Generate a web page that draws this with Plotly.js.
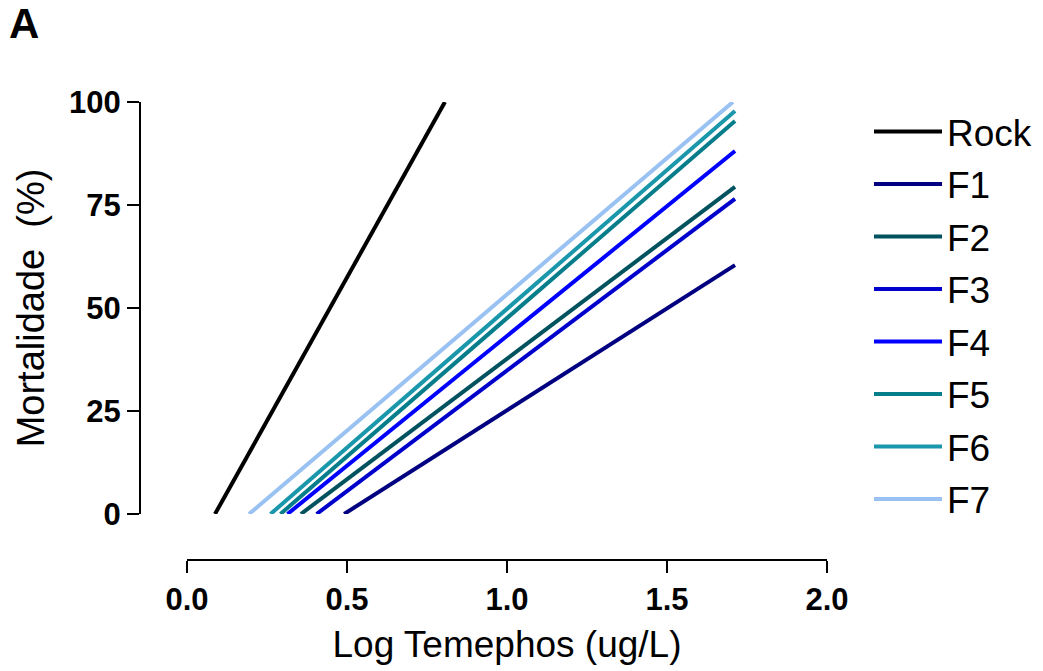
<!DOCTYPE html>
<html>
<head>
<meta charset="utf-8">
<script src="https://cdn.plot.ly/plotly-3.0.1.min.js"></script>
<style>html,body{margin:0;padding:0;background:#fff;}#chart{width:1043px;height:671px;}</style>
</head>
<body>
<div id="chart"></div>
<script>
// Series names
const seriesNames = ["Rock", "F1", "F2", "F3", "F4", "F5", "F6", "F7"];
// Log Temephos (x) at the start and end of each fitted line
const rockX = [0.0875, 0.806];
const f1X = [0.491, 1.7125];
const f2X = [0.356, 1.7125];
const f3X = [0.405, 1.7125];
const f4X = [0.314, 1.7125];
const f5X = [0.292, 1.7125];
const f6X = [0.261, 1.7125];
const f7X = [0.194, 1.706];
// Mortalidade (%) at the start and end of each fitted line
const rockY = [0, 100];
const f1Y = [0, 60.4];
const f2Y = [0, 79.4];
const f3Y = [0, 76.5];
const f4Y = [0, 88.1];
const f5Y = [0, 95.4];
const f6Y = [0, 97.8];
const f7Y = [0, 100];
// Axis ticks
const xTicks = [0.0, 0.5, 1.0, 1.5, 2.0];
const xTickText = ["0.0", "0.5", "1.0", "1.5", "2.0"];
const yTicks = [0, 25, 50, 75, 100];
const yTickText = ["0", "25", "50", "75", "100"];

const colors = ["#000000", "#000080", "#00525F", "#0000CC", "#0000FF", "#067D8A", "#1B97AB", "#99C2F3"];
const xs = [rockX, f1X, f2X, f3X, f4X, f5X, f6X, f7X];
const ys = [rockY, f1Y, f2Y, f3Y, f4Y, f5Y, f6Y, f7Y];

const traces = seriesNames.map((name, i) => ({
  type: "scatter",
  mode: "lines",
  name: name,
  legendgroup: "g" + i,
  x: xs[i],
  y: ys[i],
  line: {color: colors[i], width: 4}
}));

const W = 1043, H = 671;
const FONT = "Liberation Sans, Arial, sans-serif";

const layout = {
  width: W,
  height: H,
  margin: {l: 0, r: 0, t: 0, b: 0},
  paper_bgcolor: "#ffffff",
  plot_bgcolor: "#ffffff",
  showlegend: true,
  font: {family: FONT, color: "#000000"},
  xaxis: {
    domain: [187 / W, 827 / W],
    range: [0, 2],
    anchor: "free",
    position: 1 - 560 / H,
    tickvals: xTicks,
    ticktext: xTickText,
    ticks: "outside",
    ticklen: 12,
    tickwidth: 2,
    tickcolor: "#000",
    showline: true,
    linewidth: 2,
    linecolor: "#000",
    showgrid: false,
    zeroline: false,
    tickfont: {family: FONT, size: 31, weight: "bold", color: "#000"},
    title: {text: "Log Temephos (ug/L)", font: {family: FONT, size: 37, color: "#000"}, standoff: 14},
    automargin: false
  },
  yaxis: {
    domain: [1 - 514 / H, 1 - 102 / H],
    range: [0, 100],
    anchor: "free",
    position: 140 / W,
    tickvals: yTicks,
    ticktext: yTickText,
    ticks: "outside",
    ticklen: 12,
    tickwidth: 2,
    tickcolor: "#000",
    showline: true,
    linewidth: 2,
    linecolor: "#000",
    showgrid: false,
    zeroline: false,
    tickfont: {family: FONT, size: 31, weight: "bold", color: "#000"},
    title: {text: "Mortalidade\u00a0 (%)", font: {family: FONT, size: 38, color: "#000"}, standoff: 12},
    automargin: false
  },
  legend: {
    x: 869 / W,
    xanchor: "left",
    y: 1 - 101 / H,
    yanchor: "top",
    traceorder: "grouped",
    tracegroupgap: 1.4,
    itemwidth: 68,
    font: {family: FONT, size: 37, color: "#000"},
    bgcolor: "rgba(0,0,0,0)",
    borderwidth: 0
  },
  annotations: [{
    text: "<b>A</b>",
    xref: "paper", yref: "paper",
    x: 7 / W, y: 1 + 2 / H,
    xanchor: "left", yanchor: "top",
    showarrow: false,
    font: {family: FONT, size: 42, color: "#000"}
  }]
};

Plotly.newPlot("chart", traces, layout, {displayModeBar: false, staticPlot: true});
</script>
</body>
</html>
